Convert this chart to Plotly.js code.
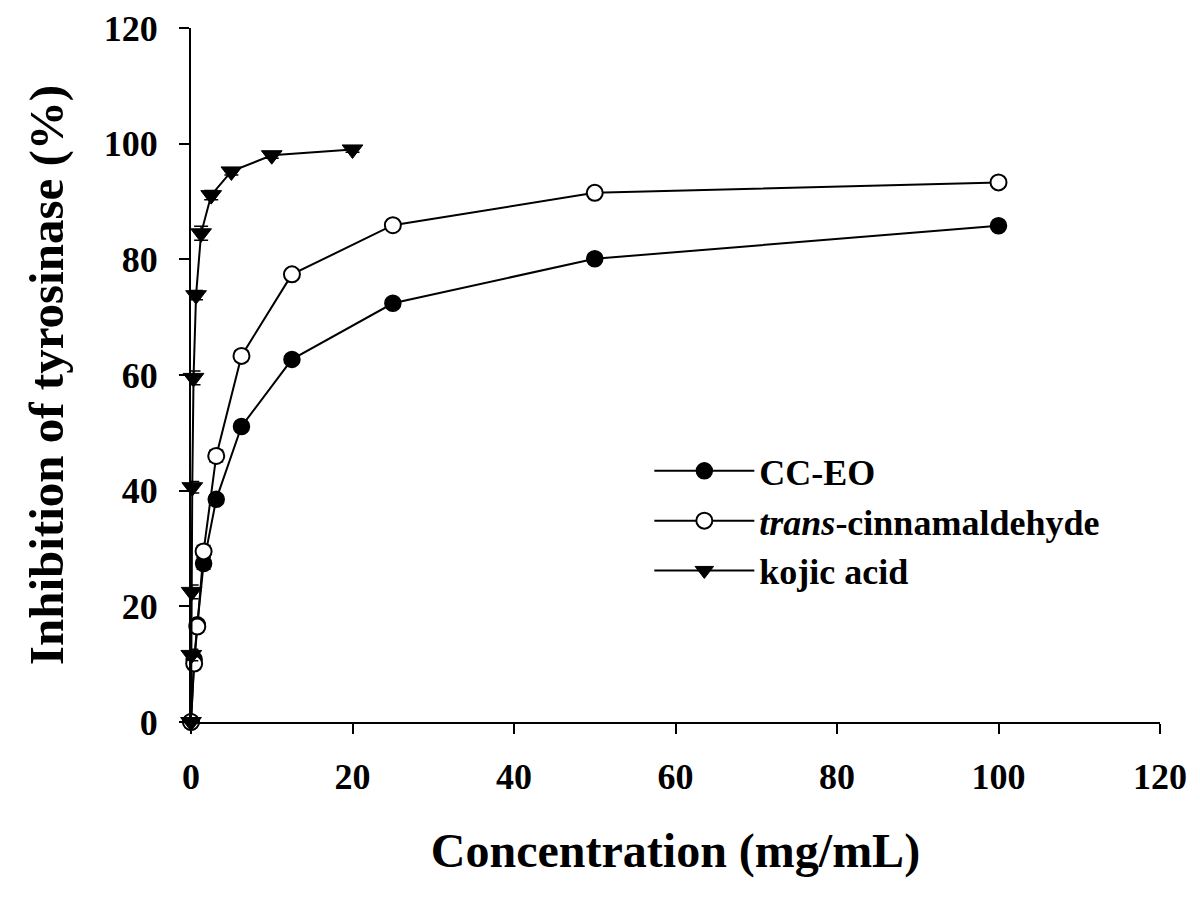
<!DOCTYPE html>
<html>
<head>
<meta charset="utf-8">
<script src="https://cdn.plot.ly/plotly-3.0.1.min.js"></script>
<style>html,body{margin:0;padding:0;background:#fff;}#chart{width:1200px;height:901px;}</style>
</head>
<body>
<div id="chart"></div>
<script>
var concEO = [0, 0.39, 0.78, 1.56, 3.125, 6.25, 12.5, 25, 50, 100];
var ccEO = [0, 10.8, 16.8, 27.4, 38.5, 51.1, 62.7, 72.4, 80.1, 85.8];
var ccEOErr = [0.3, 0.8, 0.8, 1.0, 0.8, 0.7, 0.6, 0.7, 0.5, 0.5];
var transCin = [0, 10.1, 16.5, 29.5, 46.0, 63.3, 77.4, 85.9, 91.5, 93.3];
var transCinErr = [0.3, 0.9, 0.9, 1.0, 1.0, 0.9, 0.8, 0.6, 0.5, 0.8];
var concKojic = [0, 0.039, 0.078, 0.156, 0.3125, 0.625, 1.25, 2.5, 5, 10, 20];
var kojic = [0, 11.6, 22.5, 40.6, 59.5, 73.8, 84.5, 91.1, 95.2, 98.0, 99.0];
var kojicErr = [0.3, 1.0, 1.2, 1.0, 1.2, 0.8, 1.2, 0.8, 0.6, 0.5, 0.5];
var seriesNames = ['CC-EO', '<i>trans</i>-cinnamaldehyde', 'kojic acid'];

function errStyle(arr) {
  return {type: 'data', array: arr, visible: true, color: '#000', thickness: 1.5, width: 7};
}
var traces = [
  {x: concEO, y: ccEO, name: seriesNames[0], mode: 'lines+markers', type: 'scatter',
   line: {color: '#000', width: 2},
   marker: {symbol: 'circle', size: 16, color: '#000', line: {color: '#000', width: 1.5}},
   error_y: errStyle(ccEOErr), cliponaxis: false},
  {x: concEO, y: transCin, name: seriesNames[1], mode: 'lines+markers', type: 'scatter',
   line: {color: '#000', width: 2},
   marker: {symbol: 'circle', size: 16, color: '#fff', line: {color: '#000', width: 2}},
   error_y: errStyle(transCinErr), cliponaxis: false},
  {x: concKojic, y: kojic, name: seriesNames[2], mode: 'lines+markers', type: 'scatter',
   line: {color: '#000', width: 2},
   marker: {symbol: 'triangle-down', size: 18, color: '#000', line: {color: '#000', width: 1}},
   error_y: errStyle(kojicErr), cliponaxis: false}
];
var fontFam = '"Liberation Serif", "Times New Roman", serif';
var layout = {
  width: 1200, height: 901,
  margin: {l: 191, r: 40, t: 28, b: 179},
  paper_bgcolor: '#fff', plot_bgcolor: '#fff',
  font: {family: fontFam, color: '#000'},
  showlegend: true,
  legend: {x: 0.473, y: 0.405, xanchor: 'left', yanchor: 'top',
           font: {family: fontFam, size: 36, weight: 'bold', color: '#000'},
           bgcolor: 'rgba(0,0,0,0)', tracegroupgap: 0, itemwidth: 100},
  xaxis: {
    range: [0, 120], tickvals: [0, 20, 40, 60, 80, 100, 120],
    showgrid: false, zeroline: false, showline: true, linecolor: '#000', linewidth: 2,
    ticks: 'outside', ticklen: 10, tickwidth: 2, tickcolor: '#000',
    tickfont: {family: fontFam, size: 36, weight: 'bold'},
    ticklabelstandoff: 12,
    title: {text: 'Concentration (mg/mL)', font: {family: fontFam, size: 48, weight: 'bold'}, standoff: 37}
  },
  yaxis: {
    range: [0, 120], tickvals: [0, 20, 40, 60, 80, 100, 120],
    showgrid: false, zeroline: false, showline: true, linecolor: '#000', linewidth: 2,
    ticks: 'outside', ticklen: 10, tickwidth: 2, tickcolor: '#000',
    tickfont: {family: fontFam, size: 36, weight: 'bold'},
    ticklabelstandoff: 14,
    title: {text: 'Inhibition of tyrosinase (%)', font: {family: fontFam, size: 49, weight: 'bold'}, standoff: 25}
  }
};
Plotly.newPlot('chart', traces, layout, {displayModeBar: false, staticPlot: true});
</script>
</body>
</html>
